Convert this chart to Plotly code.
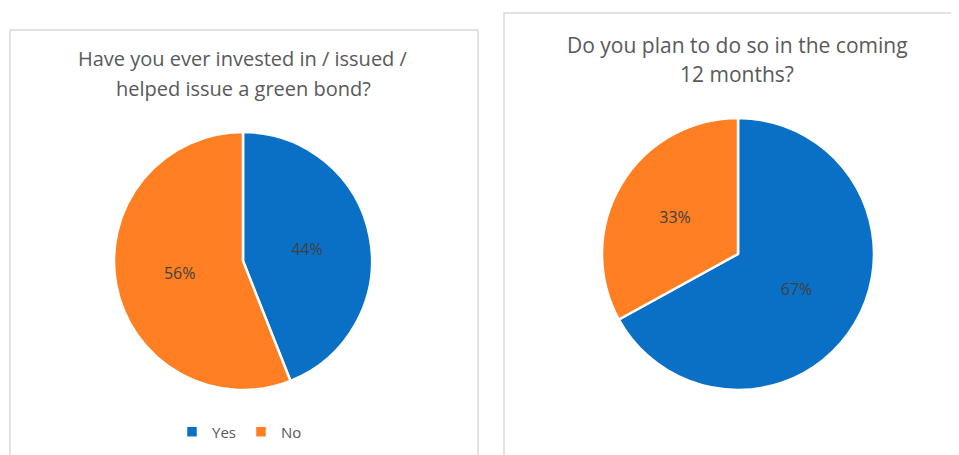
import plotly.graph_objects as go

W, H = 959, 455
OFF = 8  # page body margin offset

labels = ["Yes", "No"]
ever_values = [44, 56]
plan_values = [67, 33]
colors = ["#0A70C6", "#FF7F22"]

title_left_lines = ["Have you ever invested in / issued /", "helped issue a green bond?"]
title_right_lines = ["Do you plan to do so in the coming", "12 months?"]

FONT = "Open Sans"
TXT = "#595959"

def px_x(v):
    return (v - OFF) / W

def px_y(v):
    return 1 - (v - OFF) / H

fig = go.Figure()

fig.add_trace(go.Pie(
    labels=labels, values=ever_values, sort=False, direction="clockwise", rotation=0,
    marker=dict(colors=colors, line=dict(color="white", width=2.5)),
    textinfo="percent", textposition="inside", insidetextorientation="horizontal",
    textfont=dict(family=FONT, size=16, color="#404040"),
    domain=dict(x=[px_x(114), px_x(372)], y=[px_y(390), px_y(132)]),
    legend="legend", hoverinfo="label+percent",
))

fig.add_trace(go.Pie(
    labels=labels, values=plan_values, sort=False, direction="clockwise", rotation=0,
    marker=dict(colors=colors, line=dict(color="white", width=2.5)),
    textinfo="percent", textposition="inside", insidetextorientation="horizontal",
    textfont=dict(family=FONT, size=16, color="#404040"),
    domain=dict(x=[px_x(602), px_x(874)], y=[px_y(391), px_y(117)]),
    legend="legend2", hoverinfo="label+percent",
))

shapes = [
    dict(type="rect", xref="paper", yref="paper",
         x0=px_x(10), x1=px_x(478), y0=-0.05, y1=px_y(30),
         line=dict(color="#D9D9D9", width=1.5), fillcolor="rgba(0,0,0,0)"),
    dict(type="rect", xref="paper", yref="paper",
         x0=px_x(504), x1=1.05, y0=-0.05, y1=px_y(13),
         line=dict(color="#D9D9D9", width=1.5), fillcolor="rgba(0,0,0,0)"),
]

annotations = []
for line, yy in zip(title_left_lines, [58, 88]):
    annotations.append(dict(text=line, xref="paper", yref="paper", x=px_x(243), y=px_y(yy),
                            showarrow=False, xanchor="center", yanchor="middle",
                            font=dict(family=FONT, size=20, color=TXT)))
for line, yy in zip(title_right_lines, [45, 74]):
    annotations.append(dict(text=line, xref="paper", yref="paper", x=px_x(737), y=px_y(yy),
                            showarrow=False, xanchor="center", yanchor="middle",
                            font=dict(family=FONT, size=21, color=TXT)))

leg_common = dict(orientation="h", xanchor="center", yanchor="middle",
                  font=dict(family=FONT, size=15, color=TXT),
                  entrywidth=24, entrywidthmode="pixels",
                  bgcolor="rgba(0,0,0,0)", itemclick=False, itemdoubleclick=False)

fig.update_layout(
    width=W, height=H,
    margin=dict(l=0, r=0, t=0, b=0),
    paper_bgcolor="white", plot_bgcolor="white",
    shapes=shapes, annotations=annotations,
    legend=dict(x=px_x(241), y=px_y(432), **leg_common),
    legend2=dict(x=px_x(736), y=px_y(432), **leg_common),
)

fig.write_html("out.html")
